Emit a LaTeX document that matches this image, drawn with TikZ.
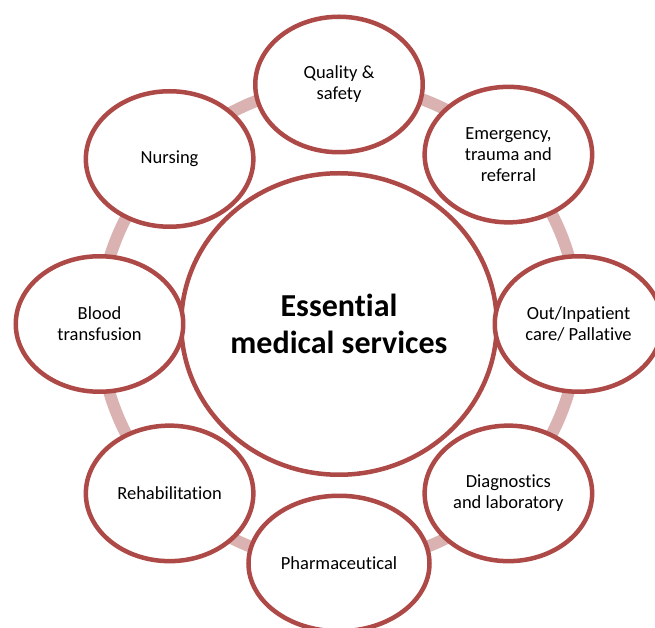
\documentclass[tikz,border=0pt]{standalone}
\usepackage{fontspec}
\setmainfont{Carlito}[Ligatures=NoCommon]
\usetikzlibrary{shapes,backgrounds}

\definecolor{rim}{HTML}{AD4A47}
\definecolor{ring}{HTML}{D9B2B1}

\begin{document}
\begin{tikzpicture}[x=1pt,y=1pt,
  srv/.style={ellipse,draw=rim,fill=white,line width=4.5pt,inner sep=0pt,minimum width=167.5pt,minimum height=135.5pt,align=center,font=\fontsize{18.5}{21}\selectfont},
  hub/.style={srv,minimum width=315.5pt,minimum height=301.5pt,font=\fontsize{32}{37}\selectfont\bfseries},
  lnk/.style={draw=ring,line width=12pt,bend left=22.5,looseness=0.89}]
  \useasboundingbox (-339,-304) rectangle (316,324);
  \node[hub] (ems) at (0,0) {Essential\\medical services};

  \node[srv] (qs) at (0,239.5) {Quality \&\\safety};
  \node[srv] (etr) at (169.4,169.4) {Emergency,\\trauma and\\referral};
  \node[srv] (oip) at (239.5,0) {Out/Inpatient\\care/ Pallative};
  \node[srv] (dgl) at (169.4,-169.4) {Diagnostics\\and laboratory};
  \node[srv,minimum width=181pt] (phm) at (0,-239.5) {Pharmaceutical};
  \node[srv] (reh) at (-169.4,-169.4) {Rehabilitation};
  \node[srv] (bld) at (-239.5,0) {Blood\\transfusion};
  \node[srv] (nrs) at (-169.4,165) {Nursing};

  \begin{scope}[on background layer]
  \draw[lnk] (qs.center) to (etr.center);
  \draw[lnk] (etr.center) to (oip.center);
  \draw[lnk] (oip.center) to (dgl.center);
  \draw[lnk] (dgl.center) to (phm.center);
  \draw[lnk] (phm.center) to (reh.center);
  \draw[lnk] (reh.center) to (bld.center);
  \draw[lnk] (bld.center) to (nrs.center);
  \draw[lnk] (nrs.center) to (qs.center);
  \end{scope}
\end{tikzpicture}
\end{document}
